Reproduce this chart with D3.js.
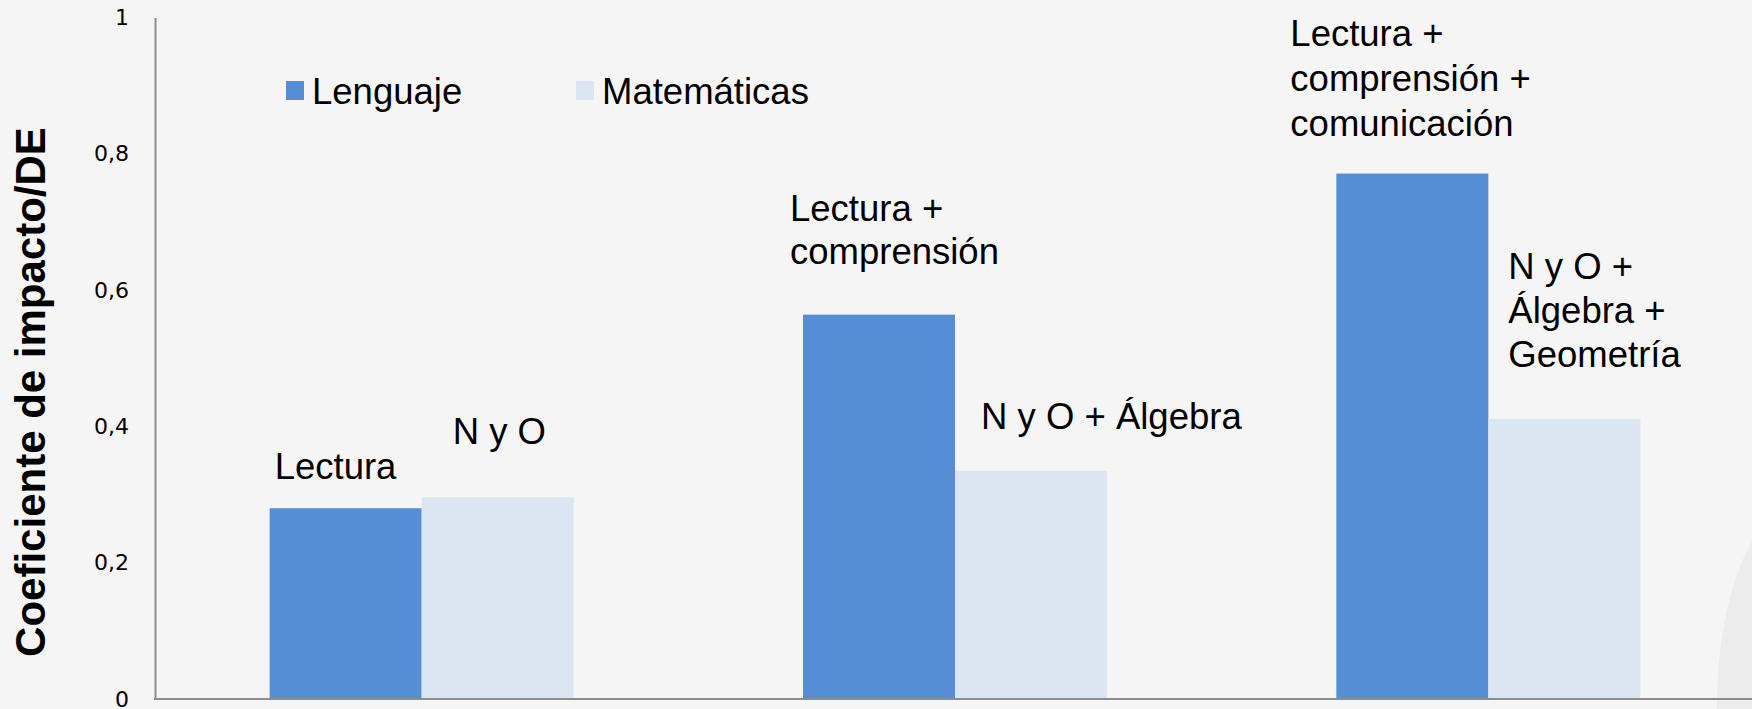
<!DOCTYPE html>
<html>
<head>
<meta charset="utf-8">
<script src="https://cdn.jsdelivr.net/npm/d3@7"></script>
<style>
body { margin: 0; background: #f5f5f5; }
svg { display: block; }
</style>
</head>
<body>
<svg id="chart"></svg>
<script>
var groups = ["g1", "g2", "g3"];
var series = ["Lenguaje", "Matemáticas"];
var lenguaje = [0.28, 0.564, 0.771];
var matematicas = [0.296, 0.335, 0.411];
var lenguajeLabels = [["Lectura"], ["Lectura +", "comprensión"], ["Lectura +", "comprensión +", "comunicación"]];
var matematicasLabels = [["N y O"], ["N y O + Álgebra"], ["N y O +", "Álgebra +", "Geometría"]];
var yTicks = [0, 0.2, 0.4, 0.6, 0.8, 1];

// label offsets from the top-left corner of each bar
var lenguajeOffsets = [[5, -29, 44], [-13, -94, 43], [-46, -128, 45]];
var matematicasOffsets = [[31, -53, 44], [26, -42, 44], [20, -140, 44]];

var width = 1752;
var height = 709;
var colors = ["#558ed5", "#dce6f2"];

var svg = d3.select("#chart")
  .attr("width", width)
  .attr("height", height);

svg.append("rect")
  .attr("width", width)
  .attr("height", height)
  .attr("fill", "#f5f5f5");

// faint decoration in the lower right corner
svg.append("ellipse")
  .attr("cx", 1805)
  .attr("cy", 705)
  .attr("rx", 88)
  .attr("ry", 205)
  .attr("fill", "#ececec");

var x = d3.scaleBand()
  .domain(groups)
  .range([155, 1755])
  .paddingInner(0.43)
  .paddingOuter(0.215);

var xs = d3.scaleBand()
  .domain(series)
  .range([0, x.bandwidth()]);

var y = d3.scaleLinear()
  .domain([0, 1])
  .range([699, 17.5]);

var rows = groups.map(function(g, i) {
  return [
    {g: g, s: series[0], v: lenguaje[i], lab: lenguajeLabels[i], off: lenguajeOffsets[i], c: colors[0]},
    {g: g, s: series[1], v: matematicas[i], lab: matematicasLabels[i], off: matematicasOffsets[i], c: colors[1]}
  ];
});
var bars = d3.merge(rows);

svg.selectAll("rect.bar")
  .data(bars)
  .enter()
  .append("rect")
  .attr("class", "bar")
  .attr("x", function(d) { return x(d.g) + xs(d.s); })
  .attr("y", function(d) { return y(d.v); })
  .attr("width", xs.bandwidth())
  .attr("height", function(d) { return y(0) - y(d.v); })
  .attr("fill", function(d) { return d.c; });

// bar labels
var labels = svg.selectAll("text.lab")
  .data(bars)
  .enter()
  .append("text")
  .attr("class", "lab")
  .attr("font-family", "'Liberation Sans', Arial, sans-serif")
  .attr("font-size", 36.5)
  .attr("fill", "#000");

labels.each(function(d) {
  var t = d3.select(this);
  var x0 = x(d.g) + xs(d.s) + d.off[0];
  var y0 = y(d.v) + d.off[1];
  d.lab.forEach(function(line, k) {
    t.append("tspan")
      .attr("x", x0)
      .attr("y", y0 + k * d.off[2])
      .text(line);
  });
});

// axes
var yAxis = d3.axisLeft(y)
  .tickValues(yTicks)
  .tickSize(0)
  .tickPadding(26)
  .tickFormat(function(d) { return d3.format("")(d).replace(".", ","); });

var gy = svg.append("g")
  .attr("transform", "translate(155,0)")
  .call(yAxis);
gy.select(".domain").attr("stroke", "#8c8c8c").attr("stroke-width", 2);
gy.selectAll("text")
  .attr("font-family", "'DejaVu Sans', sans-serif")
  .attr("font-size", 22)
  .attr("fill", "#000");

var xAxis = d3.axisBottom(x).tickSize(0).tickFormat("");
var gx = svg.append("g")
  .attr("transform", "translate(0,699)")
  .call(xAxis);
gx.select(".domain")
  .attr("d", "M154,0H" + width)
  .attr("stroke", "#8c8c8c")
  .attr("stroke-width", 2);

// y title
svg.append("text")
  .attr("transform", "translate(45,392) rotate(-90)")
  .attr("text-anchor", "middle")
  .attr("font-family", "'Liberation Sans', Arial, sans-serif")
  .attr("font-weight", "bold")
  .attr("font-size", 42)
  .attr("fill", "#000")
  .text("Coeficiente de impacto/DE");

// legend
var legendX = [286, 576];
var legend = svg.selectAll("g.legend")
  .data(series)
  .enter()
  .append("g")
  .attr("class", "legend")
  .attr("transform", function(d, i) { return "translate(" + legendX[i] + ",81)"; });

legend.append("rect")
  .attr("width", 18)
  .attr("height", 19)
  .attr("fill", function(d, i) { return colors[i]; });

legend.append("text")
  .attr("x", 26)
  .attr("y", 23)
  .attr("font-family", "'Liberation Sans', Arial, sans-serif")
  .attr("font-size", 36.5)
  .attr("fill", "#000")
  .text(function(d) { return d; });
</script>
</body>
</html>
